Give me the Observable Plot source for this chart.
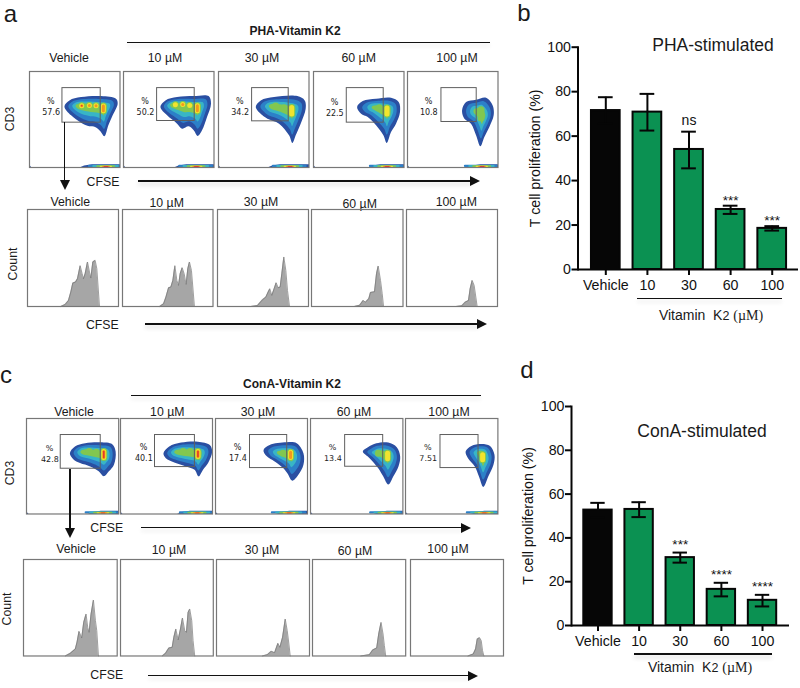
<!DOCTYPE html>
<html><head><meta charset="utf-8">
<script src="https://cdn.jsdelivr.net/npm/d3@7"></script>
<script src="https://cdn.jsdelivr.net/npm/@observablehq/plot@0.6"></script>
<style>
html,body{margin:0;padding:0;background:#fff}
#fig{position:relative;width:800px;height:688px;overflow:hidden;font-family:"Liberation Sans",Arial,sans-serif;color:#1a1a1a}
#fig svg{position:absolute;overflow:visible;background:transparent}
.lab{position:absolute;white-space:nowrap;transform:translate(-50%,-50%);line-height:1}
.ln{position:absolute;background:#111;box-shadow:0 3px 4px rgba(0,0,0,.16)}
.ah{position:absolute;width:0;height:0}
</style></head><body><div id="fig"></div>
<script>
// ---------- values ----------
const barCats = ["Vehicle","10","30","60","100"];
const phaMean = [71.5,70.8,54,27,18.5];
const phaLow  = [65.5,62.5,45.5,25,17.5];
const phaHigh = [77.5,79,62,28.7,19.5];
const phaSig  = ["","","ns","***","***"];
const conMean = [52.7,53,31,16.5,11.5];
const conLow  = [49.5,49.5,28.7,13.3,8.7];
const conHigh = [56,56.3,33.3,19.5,14];
const conSig  = ["","","***","****","****"];

const doses = ["Vehicle","10 µM","30 µM","60 µM","100 µM"];
const phaPct = ["57.6","50.2","34.2","22.5","10.8"];
const conPct = ["42.8","40.1","17.4","13.4","7.51"];

// flow plots: outer density outline
const phaOuter = [
 [[105,105],[120,87],[155,77],[215,74],[260,82],[265,97],[250,132],[237,162],[225,195],[213,180],[197,167],[180,165],[155,154],[125,132]],
 [[111,107],[126,87],[161,77],[211,74],[256,74],[263,97],[251,137],[236,177],[223,194],[211,177],[196,165],[176,172],[161,157],[131,132]],
 [[112,107],[127,87],[167,77],[237,74],[259,87],[262,112],[247,157],[232,192],[222,215],[212,192],[182,157],[147,142],[132,132]],
 [[131,107],[148,89],[188,82],[233,79],[256,92],[260,122],[248,157],[233,182],[220,215],[210,192],[188,162],[163,137],[143,127]],
 [[164,117],[176,92],[206,85],[236,79],[256,102],[259,132],[246,167],[231,197],[219,225],[206,192],[191,157],[171,142]]
];
const conOuter = [
 [[128,105],[143,85],[173,75],[218,72],[253,78],[263,100],[258,140],[243,160],[228,175],[213,160],[188,145],[158,135],[138,123]],
 [[127,105],[144,85],[179,73],[229,70],[264,80],[271,100],[259,135],[244,155],[231,175],[219,155],[194,145],[159,133],[134,120]],
 [[142,95],[160,80],[210,72],[240,75],[260,105],[260,140],[245,170],[227,188],[212,165],[200,150],[175,130],[150,113]],
 [[154,100],[169,87],[194,75],[229,73],[254,87],[264,115],[259,145],[244,175],[229,200],[214,175],[199,150],[174,120]],
 [[177,100],[194,83],[224,77],[249,83],[262,110],[259,140],[244,175],[229,207],[216,175],[204,145],[184,120]]
];
const phaRidge = [[150,103,222,110],[150,100,222,110],[165,104,220,118],[190,108,221,118],[210,120,225,135]];
const conRidge = [[170,100,228,108],[170,100,229,107],[195,105,222,110],[205,105,227,113],[222,105,228,122]];
// density peaks: x, y from, y to, hottest level
const phaPeaks = [
 [[157,103,103,6],[180,102,102,5],[200,103,103,5],[222,104,118,5]],
 [[156,100,100,4],[178,99,99,5],[199,102,102,4],[222,103,118,5]],
 [[172,104,104,3],[197,109,109,3],[220,108,128,4]],
 [[198,109,109,3],[221,110,128,4]],
 [[221,115,140,3]]
];
const conPeaks = [
 [[185,100,100,3],[206,102,102,3],[228,100,118,6]],
 [[185,100,100,3],[206,100,100,3],[229,100,115,6]],
 [[200,105,105,3],[222,102,118,5]],
 [[200,105,105,3],[227,105,122,4]],
 [[227,110,125,4]]
];
const phaGate = [[99,50,214,154],[101,50,214,149],[101,50,211,150],[100,50,211,154],[102,50,208,152]];
const conGate = [[101,50,219,152],[102,50,220,147],[102,50,212,150],[102,50,214,146],[103,50,215,150]];
const phaBand = [[150,232],[151,221],[147,217],[163,223],[181,226]];
const conBand = [[181,228],[167,229],[180,220],[187,229],[194,234]];

// histograms (CFSE position, count)
const phaHistX = [
 [100,113,123,130,136,144,150,158,164,168,173,180,186,190,196,203,208,216],
 [112,124,131,139,146,152,158,164,169,174,180,186,192,197,202,208,217],
 [100,120,135,145,152,157,163,170,176,182,188,193,199,205,210,216],
 [128,144,154,161,171,176,188,194,199,206,211,215],
 [149,166,176,186,191,197,203,208,212]
];
const phaHistY = [
 [0,6,18,43,70,73,83,122,98,83,98,133,103,85,133,138,113,0],
 [0,8,28,56,58,78,122,78,63,98,116,98,66,113,133,108,0],
 [0,3,20,28,43,53,33,53,71,56,58,98,148,108,48,0],
 [0,4,18,13,23,42,44,98,121,78,38,0],
 [0,2,13,18,53,78,63,28,0]
];
const conHistX = [
 [125,140,155,160,166,174,180,187,192,196,202,209,215,219,224],
 [126,136,146,156,161,167,174,181,187,194,199,204,209,215,219,224],
 [138,153,165,175,185,191,199,207,213,218,222],
 [145,171,181,193,199,206,212,216,220],
 [173,189,196,201,208,213,217,221]
];
const conHistY = [
 [0,8,21,41,74,54,101,126,86,71,126,168,106,76,0],
 [0,8,24,26,56,81,48,81,114,76,71,131,141,106,46,0],
 [0,4,14,10,38,26,56,111,76,36,0],
 [0,4,18,24,66,101,66,31,0],
 [0,6,21,51,55,46,16,0]
];

// ---------- layout ----------
const fig = document.getElementById("fig");
const BLUES = ["#2a4fa2","#2c80c8","#38b5c6","#82c750","#f2e42e","#f3981f","#e5392a"];
const INSET = [1,.74,.48,.26];
const PEAKW = {3:7,4:5,5:3,6:1.6};

function lab(html,x,y,o={}){
  const d=document.createElement("div");d.className="lab";d.innerHTML=html;
  d.style.left=x+"px";d.style.top=y+"px";d.style.fontSize=(o.size||12.3)+"px";
  if(o.weight)d.style.fontWeight=o.weight;
  if(o.rot)d.style.transform="translate(-50%,-50%) rotate(-90deg)";
  fig.appendChild(d);
}
function hline(x1,x2,y,w=1.5){
  const d=document.createElement("div");d.className="ln";
  Object.assign(d.style,{left:x1+"px",top:(y-w/2)+"px",width:(x2-x1)+"px",height:w+"px"});fig.appendChild(d);
}
function arrowR(x1,x2,y){
  hline(x1,x2-8,y,1.6);
  const a=document.createElement("div");a.className="ah";
  Object.assign(a.style,{left:(x2-10)+"px",top:(y-5)+"px",borderTop:"5px solid transparent",borderBottom:"5px solid transparent",borderLeft:"10px solid #111"});
  fig.appendChild(a);
}
function arrowD(x,y1,y2){
  const d=document.createElement("div");d.className="ln";
  Object.assign(d.style,{left:(x-.9)+"px",top:y1+"px",width:"1.8px",height:(y2-y1-8)+"px",boxShadow:"none"});fig.appendChild(d);
  const a=document.createElement("div");a.className="ah";
  Object.assign(a.style,{left:(x-5)+"px",top:(y2-10)+"px",borderLeft:"5px solid transparent",borderRight:"5px solid transparent",borderTop:"10px solid #111"});
  fig.appendChild(a);
}
function place(svg,l,t){svg.style.left=l+"px";svg.style.top=t+"px";fig.appendChild(svg);}

function insetTo(outer,r,k){
  const [x1,y1,x2,y2]=r,dx=x2-x1,dy=y2-y1,L=dx*dx+dy*dy;
  return outer.map(([x,y])=>{
    const t=Math.max(0,Math.min(1,((x-x1)*dx+(y-y1)*dy)/L));
    const px=x1+t*dx,py=y1+t*dy;
    return [px+k*(x-px),py+k*(y-py)];
  });
}
function flowPlot(outer,ridge,peaks,gate,pct,band,pctPos,l,t,w,h){
  const marks=[];
  INSET.forEach((k,i)=>marks.push(Plot.line(insetTo(outer,ridge,k),{x:d=>d[0],y:d=>d[1],curve:"catmull-rom-closed",fill:BLUES[i],stroke:"none"})));
  [3,4,5,6].forEach(lv=>{
    const p=peaks.filter(d=>d[3]>=lv);
    marks.push(Plot.link(p,{x1:d=>d[0],x2:d=>d[0],y1:d=>d[1],y2:d=>d[2]+.01,stroke:BLUES[lv],strokeWidth:PEAKW[lv],strokeLinecap:"round"}));
  });
  // lower band of CD3-negative events
  const [s,c]=band;
  marks.push(Plot.line([[s,289],[s+14,283],[s+38,279],[272,279],[272,289]],{x:d=>d[0],y:d=>d[1],fill:BLUES[0],stroke:"none",curve:"linear"}));
  marks.push(Plot.line([[0,289],[0,282],[6,289]],{x:d=>d[0],y:d=>d[1],fill:BLUES[0],stroke:"none",curve:"linear"}));
  [[55,282,1],[42,283,2],[30,284,3],[20,285,4],[13,285,5],[8,286,6]].forEach(([hw,top,i])=>
    marks.push(Plot.rect([[c-hw,Math.min(272,c+hw*.9),top,289]],{x1:d=>d[0],x2:d=>d[1],y1:d=>d[2],y2:d=>d[3],fill:BLUES[i],rx:1})));
  marks.push(Plot.rect([gate],{x1:d=>d[0],x2:d=>d[2],y1:d=>d[1],y2:d=>d[3],fill:"none",stroke:"#5f5f5f",strokeWidth:1}));
  marks.push(Plot.text(["%"],{x:()=>pctPos[0],y:()=>pctPos[1],text:d=>d,fontSize:8,fontFamily:"DejaVu Sans",fill:"#222"}));
  marks.push(Plot.text([pct],{x:()=>pctPos[0]+1,y:()=>pctPos[1]+34,text:d=>d,fontSize:8,fontFamily:"DejaVu Sans",fill:"#222"}));
  marks.push(Plot.frame({stroke:"#777",strokeWidth:1.2}));
  const svg=Plot.plot({width:w+2,height:h+2,margin:1,x:{domain:[0,272],axis:null},y:{domain:[289,0],axis:null},marks});
  svg.querySelectorAll('g[aria-label="line"],g[aria-label="link"]').forEach(g=>g.style.filter="blur(.55px)");
  place(svg,l-1,t-1);
}
function histPlot(xs,ys,l,t,w,h,wUnits){
  const pts=xs.map((x,i)=>[x,ys[i]]);
  place(Plot.plot({width:w+2,height:h+2,margin:1,x:{domain:[0,wUnits],axis:null},y:{domain:[0,290],axis:null},marks:[
    Plot.areaY(pts,{x:d=>d[0],y:d=>d[1],fill:"#a6a6a6",curve:"linear"}),
    Plot.line(pts,{x:d=>d[0],y:d=>d[1],stroke:"#777",strokeWidth:.7,curve:"linear"}),
    Plot.frame({stroke:"#777",strokeWidth:1.2})
  ]}),l-1,t-1);
}
function barPlot(mean,low,high,sig,l,t,w,h,ml,mr,mt,mb,yLabOffset,align,starDy){
  const rows=barCats.map((c,i)=>({c,m:mean[i],lo:low[i],hi:high[i],s:sig[i]}));
  place(Plot.plot({width:w,height:h,marginLeft:ml,marginRight:mr,marginTop:mt,marginBottom:mb,
    style:{fontFamily:"Liberation Sans",color:"#111"},
    x:{type:"band",domain:barCats,paddingInner:.31,paddingOuter:.305,align,round:false,label:null},
    y:{domain:[0,100],label:null},
    marks:[
      Plot.barY(rows,{x:"c",y:"m",fill:d=>d.c==="Vehicle"?"#060606":"#0b9152",stroke:"#060606",strokeWidth:2}),
      Plot.ruleX(rows,{x:"c",y1:"lo",y2:"hi",stroke:"#060606",strokeWidth:2}),
      Plot.tickY(rows,{x:"c",y:"hi",stroke:"#060606",strokeWidth:2,insetLeft:7,insetRight:7}),
      Plot.tickY(rows,{x:"c",y:"lo",stroke:"#060606",strokeWidth:2,insetLeft:7,insetRight:7}),
      Plot.text(rows.filter(d=>d.s==="ns"),{x:"c",y:"hi",text:"s",dy:-11,fontSize:14,fill:"#111"}),
      Plot.text(rows.filter(d=>d.s.startsWith("*")),{x:"c",y:"hi",text:"s",dy:starDy,fontSize:13.5,fill:"#111"}),
      Plot.ruleY([0],{stroke:"#060606",strokeWidth:2}),
      Plot.frame({anchor:"left",stroke:"#060606",strokeWidth:2}),
      Plot.axisY({ticks:[0,20,40,60,80,100],tickSize:6,tickPadding:1,strokeWidth:2,stroke:"#060606",fontSize:14.2,
        label:"T cell proliferation (%)",labelAnchor:"center",labelArrow:"none",labelOffset:yLabOffset}),
      Plot.axisX({tickSize:6,tickPadding:4,strokeWidth:2,stroke:"#060606",fontSize:14.2,label:null})
    ]}),l,t);
}
function row(outers,ridges,peaks,gates,pcts,bands,pos,lefts,rights,top,bot){
  outers.forEach((o,i)=>flowPlot(o,ridges[i],peaks[i],gates[i],pcts[i],bands[i],pos[i],lefts[i],top,rights[i]-lefts[i],bot-top));
}
const K2 = 'Vitamin&nbsp; K<span style="font-size:12.5px">2</span> <span style="font-family:\'Liberation Serif\',serif">(µM)</span>';

// ---------- panel a ----------
lab("a",10.5,14,{size:24});
lab("PHA-Vitamin K2",295,31,{size:12,weight:700});
hline(127,490,42.3);
[69,165,262,358.7,457].forEach((x,i)=>lab(doses[i],x,58));
row(phaOuter,phaRidge,phaPeaks,phaGate,phaPct,phaBand,
  [[64,89],[65,89],[64,89],[63,92],[63,90]],[28.5,123,217.5,312.5,406.5],[119,213.5,308,403,497],71,167);
lab("CD3",10,119,{rot:1});
lab("CFSE",103,182);
arrowR(138,480,181);
arrowD(64.5,122,190);
[70.3,166.7,261,359.7,456.3].forEach((x,i)=>lab(doses[i],x,[201.5,203,202,204,202][i]));
[[27,118],[122,212.5],[216.5,307.5],[311,402.5],[406,497]].forEach(([a,b],i)=>
  histPlot(phaHistX[i],phaHistY[i],a,209,b-a,97,273));
lab("Count",13,263.5,{rot:1});
lab("CFSE",102.3,325);
arrowR(145,487,324);

// ---------- panel b ----------
lab("b",524,13,{size:24});
barPlot(phaMean,phaLow,phaHigh,phaSig,510,30,290,280,67.5,2,16.7,41,48,.53,-5);
lab("PHA-stimulated",713,46,{size:17.5});
hline(636.7,781.7,298.5,1);
lab(K2,711,315,{size:14});

// ---------- panel c ----------
lab("c",6,375,{size:24});
lab("ConA-Vitamin K2",292,384,{size:12,weight:700});
hline(130.7,481,395.7);
[74,167.3,258,354,449].forEach((x,i)=>lab(doses[i],x,412));
row(conOuter,conRidge,conPeaks,conGate,conPct,conBand,
  [[68,90],[68,87],[65,87],[65,87],[66,87]],[25.5,120.3,215.3,310.3,405.3],[117.7,212.3,307.3,402.7,497.7],418,513.5);
lab("CD3",10,473,{rot:1});
lab("CFSE",106.7,528);
arrowR(141,471,527.5);
arrowD(70,469,538);
[76,169,262,355,448].forEach((x,i)=>lab(doses[i],x,[548.7,550,550,551,549][i]));
[[23,116.7],[119.7,212.5],[216,309],[312.3,405.5],[409.7,502.7]].forEach(([a,b],i)=>
  histPlot(conHistX[i],conHistY[i],a,559,b-a,96.5,280));
lab("Count",7,609,{rot:1});
lab("CFSE",106.7,674.5);
arrowR(147.7,478,675.5);

// ---------- panel d ----------
lab("d",527,370,{size:24});
barPlot(conMean,conLow,conHigh,conSig,510,390,290,280,61,11,16,45,49,.49,-8);
lab("ConA-stimulated",702,432,{size:17.5});
hline(634,771.7,654,1.3);
lab(K2,700,667,{size:14});
</script></body></html>
